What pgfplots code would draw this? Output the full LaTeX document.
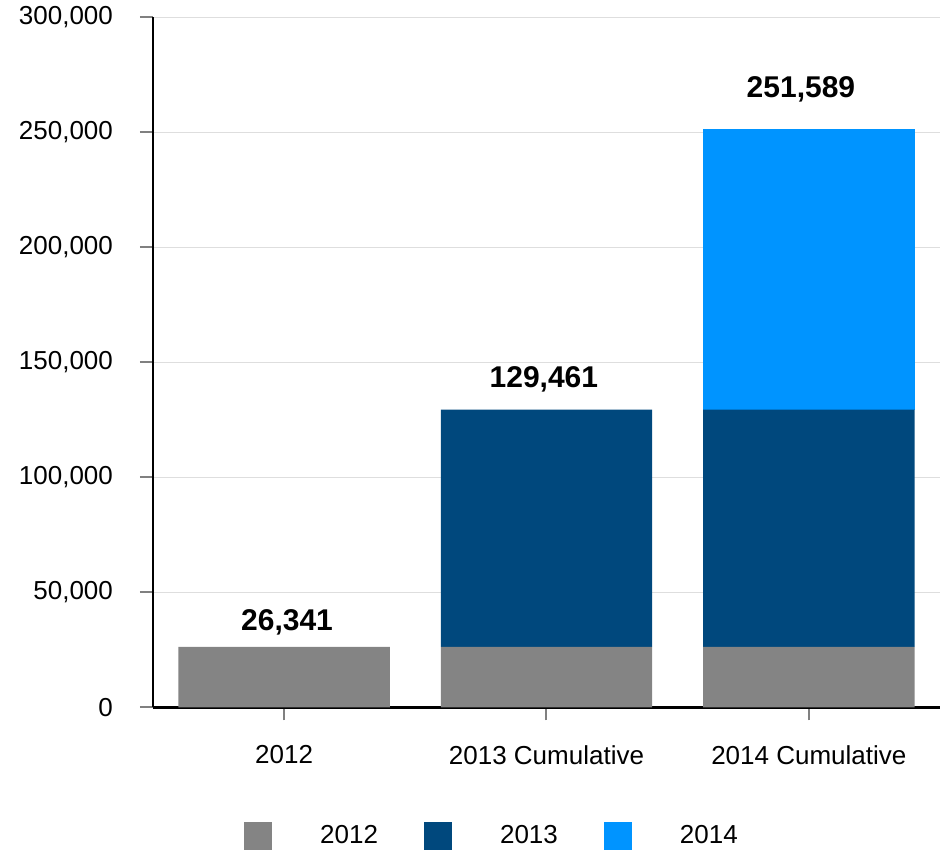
\documentclass[border=0pt]{standalone}
\usepackage{pgfplots}
\pgfplotsset{compat=1.18}
\usepackage{fontspec}
\setmainfont{Liberation Sans}
\definecolor{cA}{HTML}{848484}
\definecolor{cB}{HTML}{00487D}
\definecolor{cC}{HTML}{0094FF}
\begin{document}
\begin{tikzpicture}
\begin{axis}[
 scale only axis, width=393.5pt, height=345pt,
 ybar stacked, bar width=0.806,
 xmin=-0.5, xmax=2.5, ymin=0, ymax=300000,
 xtick={0,1,2}, xticklabels={2012,2013 Cumulative,2014 Cumulative},
 ytick={0,50000,...,300000},
 scaled y ticks=false,
 /pgf/number format/assume math mode=true,
 yticklabel style={/pgf/number format/fixed, /pgf/number format/1000 sep={,}, xshift=-10pt},
 xticklabel style={yshift=-9pt},
 font=\fontsize{13pt}{15pt}\selectfont,
 axis x line=bottom, axis y line=left,
 axis line style={-, line width=1.2pt, black},
 tick align=outside, major tick length=6.5pt,
 tick style={color=gray, line width=1pt},
 ymajorgrids, grid style={color=black!13, line width=0.6pt},
 clip=false,
 legend style={at={(0.432,-0.1865)}, anchor=center, draw=none, legend columns=3,
   /tikz/every even column/.append style={column sep=21pt}, font=\fontsize{13pt}{15pt}\selectfont},
 legend image code/.code={\path[draw=none,fill=none] (0pt,0pt) -- (36pt,0pt); \fill[#1,draw=none] (0pt,-7pt) rectangle (14pt,7pt);},
]
\addplot[fill=cA, draw=none] coordinates {(0,26341) (1,26341) (2,26341)};
\addplot[fill=cB, draw=none] coordinates {(0,0) (1,103120) (2,103120)};
\addplot[fill=cC, draw=none] coordinates {(0,0) (1,0) (2,122128)};
\legend{2012,2013,2014}
\node[font=\fontsize{15pt}{17pt}\selectfont\bfseries] at (axis cs:0.011,36957) {26,341};
\node[font=\fontsize{15pt}{17pt}\selectfont\bfseries] at (axis cs:0.99,142609) {129,461};
\node[font=\fontsize{15pt}{17pt}\selectfont\bfseries] at (axis cs:1.97,268696) {251,589};
\path (rel axis cs:-0.1944,-0.2072) rectangle (rel axis cs:1.0051,1.0246);
\end{axis}
\end{tikzpicture}
\end{document}
